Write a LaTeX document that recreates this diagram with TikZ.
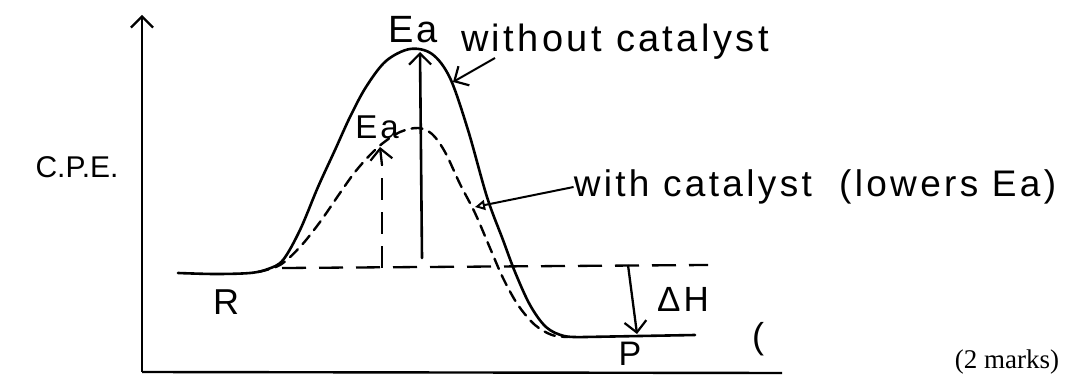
\documentclass[tikz,border=0pt]{standalone}
\usepackage{fontspec}
\setmainfont{Liberation Serif}
\newfontfamily\handfont[LetterSpace=9]{Liberation Sans}
\newfontfamily\handtight{Liberation Sans}
\usetikzlibrary{arrows.meta}
\tikzset{
  curve/.style={line width=2.6pt, line join=round, line cap=round},
  dcurve/.style={line width=2.4pt, line cap=round, dash pattern=on 11pt off 7pt},
  guide/.style={line width=2.3pt, dash pattern=on 24pt off 13pt},
  axis/.style={line width=2.4pt},
  barb/.style={-{Straight Barb[length=11pt,width=22pt,line width=2.2pt]}},
  lbl/.style={inner sep=0pt, anchor=center},
  hw/.style={lbl, font=\handfont\fontsize{#1}{#1}\selectfont},
}
\begin{document}
\begin{tikzpicture}[x=1pt,y=-1pt]
\useasboundingbox (0,0) rectangle (1081,379);

% axes
\coordinate (origin) at (142,372);
\coordinate (ytop) at (142,15);
\coordinate (xend) at (782,373);
\draw[axis,barb] (origin) -- (ytop);
\draw[axis] (origin) -- (xend);

% reactant dashed level
\coordinate (rl) at (282,268);
\coordinate (rr) at (708,265);
\draw[guide] (rl) -- (rr);

% uncatalysed curve (solid) with R and P levels
\draw[curve] plot[smooth, tension=0.55] coordinates {
 (178,273) (215,274) (250,273) (268,269) (283,260) (300,230) (318,187)
 (335,150) (350,117) (366,87) (386,61) (410,49) (432,54) (450,78)
 (468,130) (487,197) (503,240) (515,272) (530,305) (546,327) (564,336) (585,337)}
 -- (695,335);

% catalysed curve (dashed)
\draw[dcurve] plot[smooth, tension=0.55] coordinates {
 (258,272) (280,265) (300,247) (320,222) (340,193) (355,172) (370,155)
 (383,143) (400,132) (418,128) (432,134) (445,152) (460,184) (475,213)
 (490,248) (503,278) (518,305) (535,325) (552,335) (568,337)};

% Ea (uncatalysed)
\coordinate (ea1base) at (422,258);
\coordinate (ea1tip) at (420,52);
\draw[curve,barb] (ea1base) -- (ea1tip);
\node[hw=38] (ea1) at (413,30) {Ea};

% Ea (catalysed)
\coordinate (ea2base) at (382,268);
\coordinate (ea2mid) at (382,165);
\coordinate (ea2tip) at (380,147);
\draw[line width=2.3pt, dash pattern=on 22pt off 12pt] (ea2base) -- (ea2mid);
\draw[line width=2.3pt,barb] (ea2mid) -- (ea2tip);
\node[hw=33] (ea2) at (377,127) {Ea};

% labels with leaders
\node[hw=38] (wo) at (615,42) {without catalyst};
\coordinate (wotail) at (495,58);
\coordinate (wotip) at (453,82);
\draw[line width=2pt,barb] (wotail) -- (wotip);

\node[hw=37] (wc) at (815,187) {with catalyst\ \ (lowers Ea)};
\coordinate (wctip) at (475,207);
\draw[line width=2pt,-{Triangle[open,length=10pt,width=10pt,line width=2pt]}] (wc.west) -- (wctip);

% Delta H
\coordinate (dhtop) at (628,265);
\coordinate (dhtip) at (637,334);
\draw[line width=2.3pt,barb] (dhtop) -- (dhtip);
\node[hw=35] (dh) at (683,299) {ΔH};

% other labels
\node[lbl, font=\handtight\fontsize{30}{30}\selectfont] (cpe) at (77,167) {C.P.E.};
\node[hw=36] (r) at (226,302) {R};
\node[hw=34] (p) at (630,354) {P};
\node[hw=36] (paren) at (758,339) {(};
\node[lbl, font=\fontsize{27}{29}\selectfont] (marks) at (1007,362) {(2 marks)};
\end{tikzpicture}
\end{document}
